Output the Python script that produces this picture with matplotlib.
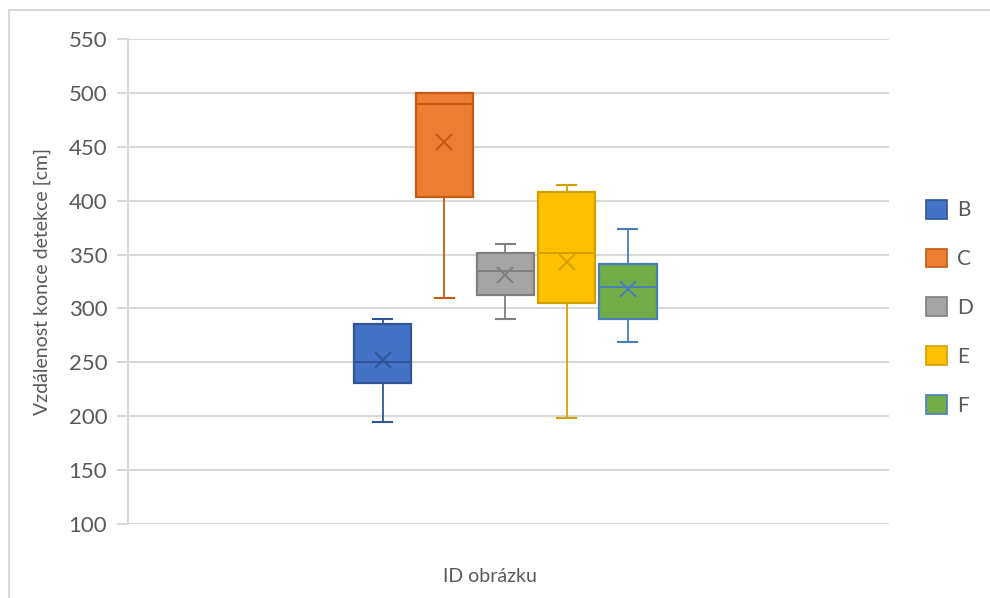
import matplotlib.pyplot as plt
from matplotlib.patches import Patch, Rectangle

# data (cm)
labels = ['B', 'C', 'D', 'E', 'F']
q1 = [230.5, 403.5, 312.5, 305.5, 290.5]
q3 = [285.5, 500.0, 351.5, 408.5, 341.0]
medians = [250.5, 490.0, 335.0, 351.0, 319.5]
means = [252.0, 454.5, 331.0, 343.5, 318.5]
whis_lo = [195.0, 310.0, 290.0, 198.0, 268.5]
whis_hi = [290.0, 500.0, 360.0, 414.5, 374.0]

fills = ['#4472C4', '#ED7D31', '#A5A5A5', '#FFC000', '#70AD47']
edges = ['#2F5597', '#C55A11', '#7F7F7F', '#D4A000', '#4A7EBB']

plt.rcParams['font.family'] = ['Lato', 'DejaVu Sans']
txt = '#595959'

fig = plt.figure(figsize=(9.9, 5.98), dpi=100)
ax = fig.add_axes([128 / 990, 1 - 524 / 598, (889 - 128) / 990, (524 - 39) / 598])

# light frame of the chart area (only left/top visible in the crop)
fig.patches.append(Rectangle((9 / 990, -0.1), 1.2, 1 - 10 / 598 + 0.1,
                             transform=fig.transFigure, fill=False,
                             edgecolor='#D9D9D9', lw=1.5))

stats = []
for i in range(len(labels)):
    stats.append(dict(label=labels[i], q1=q1[i], q3=q3[i], med=medians[i],
                      mean=means[i], whislo=whis_lo[i], whishi=whis_hi[i],
                      fliers=[]))

positions = [(i - 2) * 0.0805 - 0.004 for i in range(len(labels))]
for i, st in enumerate(stats):
    ax.bxp([st], positions=[positions[i]], widths=0.075, capwidths=[0.025],
           patch_artist=True, showmeans=True, zorder=3,
           boxprops=dict(facecolor=fills[i], edgecolor=edges[i], lw=1.6),
           medianprops=dict(color=edges[i], lw=1.4),
           whiskerprops=dict(color=edges[i], lw=1.3),
           capprops=dict(color=edges[i], lw=1.5),
           meanprops=dict(marker='x', markeredgecolor=edges[i],
                          markersize=12, markeredgewidth=1.4))

ax.set_xlim(-0.5, 0.5)
ax.set_ylim(100, 550)
ax.set_yticks(range(100, 551, 50))
ax.set_xticks([])
ax.grid(axis='y', color='#D9D9D9', lw=1.5, zorder=0)
ax.set_axisbelow(True)
for s in ['top', 'right', 'bottom']:
    ax.spines[s].set_visible(False)
ax.spines['left'].set_color('#D9D9D9')
ax.spines['left'].set_linewidth(1.5)
ax.tick_params(axis='y', colors='#D9D9D9', labelcolor=txt, labelsize=16,
               length=8, width=1.5, pad=7)

ylab = ax.set_ylabel('Vzdálenost konce detekce [cm]', color=txt, fontsize=14)
ax.yaxis.set_label_coords((42 - 128) / 761, 0.5)
ylab.set_va('center')
xlab = ax.set_xlabel('ID obrázku', color=txt, fontsize=14)
ax.xaxis.set_label_coords((489.5 - 128) / 761, (524 - 577) / 485)
xlab.set_va('center')

handles = [Patch(facecolor=fills[i], edgecolor=edges[i], lw=1.2, label=labels[i])
           for i in range(len(labels))]
leg = ax.legend(handles=handles, loc='center left', bbox_to_anchor=(1.024, 0.446),
                frameon=False, fontsize=15, handlelength=1.0, handleheight=1.0,
                labelspacing=1.36, handletextpad=0.5)
for t in leg.get_texts():
    t.set_color(txt)

fig.savefig('out.png', dpi=100)
